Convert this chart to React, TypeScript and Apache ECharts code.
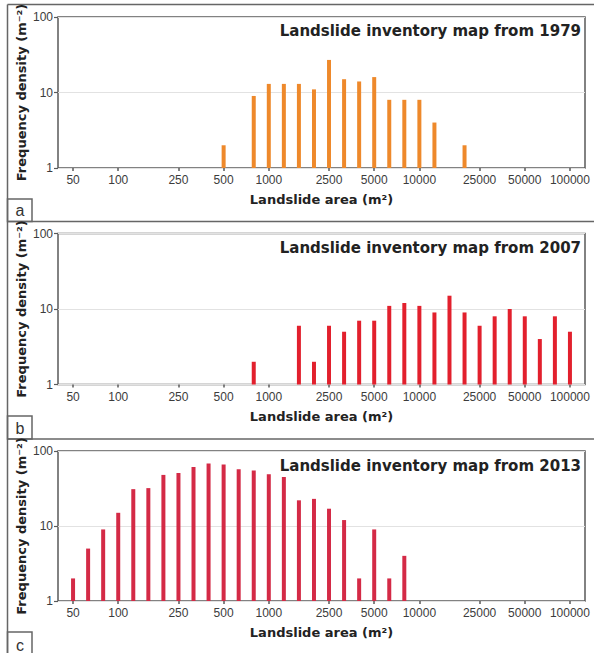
import React, { useEffect, useRef } from "react";
import * as echarts from "echarts";

// Bin centres of the landslide-area histogram (m²), 10 bins per decade
const binLabels = [
  "50", "63", "80", "100", "125", "160", "200", "250", "315", "400",
  "500", "630", "800", "1000", "1250", "1600", "2000", "2500", "3150", "4000",
  "5000", "6300", "8000", "10000", "12500", "16000", "20000", "25000", "31500", "40000",
  "50000", "63000", "80000", "100000",
];

// Tick labels shown on the x axis
const tickLabels = ["50", "100", "250", "500", "1000", "2500", "5000", "10000", "25000", "50000", "100000"];

// Frequency density (m⁻²) per bin, null = empty bin
const freq1979 = [
  null, null, null, null, null, null, null, null, null, null,
  2, null, 9, 13, 13, 13, 11, 27, 15, 14,
  16, 8, 8, 8, 4, null, 2, null, null, null,
  null, null, null, null,
];
const freq2007 = [
  null, null, null, null, null, null, null, null, null, null,
  null, null, 2, null, null, 6, 2, 6, 5, 7,
  7, 11, 12, 11, 9, 15, 9, 6, 8, 10,
  8, 4, 8, 5,
];
const freq2013 = [
  2, 5, 9, 15, 31, 32, 48, 51, 61, 68,
  66, 57, 55, 49, 45, 22, 23, 17, 12, 2,
  9, 2, 4, null, null, null, null, null, null, null,
  null, null, null, null,
];

const panelTitles = [
  "Landslide inventory map from 1979",
  "Landslide inventory map from 2007",
  "Landslide inventory map from 2013",
];
const panelLetters = ["a", "b", "c"];
const barColors = ["#EE892B", "#E2202D", "#D42A46"];

export default function App() {
  const ref = useRef<HTMLDivElement>(null);

  useEffect(() => {
    document.body.style.margin = "0";
    const chart = echarts.init(ref.current!, null, { renderer: "svg" });

    const cats = ["", ...binLabels, " "];
    const seriesData = [freq1979, freq2007, freq2013];
    const gridTops = [17, 233.5, 451];
    const gridHeights = [151, 151, 150];
    const titleTops = [23, 240, 458];
    const frame = "#5a5a5a";
    const nameFont = "DejaVu Sans";
    const tickFont = "Liberation Sans, Arial, sans-serif";
    const showTick = (_i: number, v: string) => tickLabels.includes(v);

    const grids = gridTops.map((t, i) => ({
      left: 58,
      right: 9,
      top: t,
      height: gridHeights[i],
      show: true,
      borderColor: frame,
      borderWidth: 1.5,
      backgroundColor: "transparent",
    }));

    const xAxes = gridTops.map((_, i) => ({
      type: "category",
      gridIndex: i,
      data: cats,
      boundaryGap: false,
      axisLine: { show: false },
      axisTick: { show: true, interval: showTick, length: 3, lineStyle: { color: frame, width: 1.5 } },
      axisLabel: {
        interval: showTick,
        fontFamily: tickFont,
        fontSize: 12,
        color: "#3c3c3c",
        margin: 6,
      },
      splitLine: { show: false },
      name: "Landslide area (m²)",
      nameLocation: "middle",
      nameGap: 25,
      nameMoveOverlap: false,
      nameTextStyle: { fontFamily: nameFont, fontWeight: "bold", fontSize: 13, color: "#222" },
    }));

    const yAxes = gridTops.map((_, i) => ({
      type: "log",
      logBase: 10,
      gridIndex: i,
      min: 1,
      max: 100,
      axisLine: { show: false },
      axisTick: { show: true, length: 4, lineStyle: { color: frame, width: 1.2 } },
      axisLabel: { fontFamily: tickFont, fontSize: 12, color: "#3c3c3c", margin: 5 },
      splitLine: { show: true, lineStyle: { color: "#e2e2e2", width: 1 } },
      minorTick: { show: false },
      name: "Frequency density (m⁻²)",
      nameLocation: "middle",
      nameRotate: 90,
      nameGap: 30,
      nameMoveOverlap: false,
      nameTextStyle: { fontFamily: nameFont, fontWeight: "bold", fontSize: 13, color: "#222" },
    }));

    const series = seriesData.map((arr, i) => ({
      type: "bar",
      xAxisIndex: i,
      yAxisIndex: i,
      barWidth: 4,
      data: [null, ...arr, null].map((v) => (v == null ? "-" : v)),
      itemStyle: { color: barColors[i] },
      silent: true,
    }));

    const titles = panelTitles.map((t, i) => ({
      text: t,
      right: 13,
      top: titleTops[i],
      padding: 0,
      textStyle: { fontFamily: nameFont, fontWeight: "bold", fontSize: 15, color: "#222" },
    }));

    const lineStyle = { stroke: "#666", lineWidth: 1.5 };
    const separators = [4.5, 221.5, 439].map((y) => ({
      type: "line",
      shape: { x1: 7.5, y1: y, x2: 594, y2: y },
      style: lineStyle,
    }));
    const boxTops = [199, 416, 632];
    const boxBottoms = [221.5, 439, 660];
    const letterY = [210.5, 428, 645];
    const boxes = boxTops.map((t, i) => ({
      type: "rect",
      shape: { x: 7.5, y: t, width: 24.5, height: boxBottoms[i] - t },
      style: { fill: "transparent", stroke: "#666", lineWidth: 1.5 },
    }));
    const letters = panelLetters.map((l, i) => ({
      type: "text",
      x: 20,
      y: letterY[i],
      style: {
        text: l,
        fontFamily: tickFont,
        fontSize: 16,
        fill: "#333",
        align: "center",
        verticalAlign: "middle",
      },
    }));

    chart.setOption({
      animation: false,
      backgroundColor: "#fff",
      title: titles,
      grid: grids,
      xAxis: xAxes,
      yAxis: yAxes,
      series,
      graphic: [
        ...separators,
        {
          type: "line",
          shape: { x1: 7.5, y1: 4.5, x2: 7.5, y2: 653 },
          style: lineStyle,
        },
        ...boxes,
        ...letters,
      ],
    });

    return () => chart.dispose();
  }, []);

  return <div ref={ref} style={{ width: 594, height: 653 }} />;
}
